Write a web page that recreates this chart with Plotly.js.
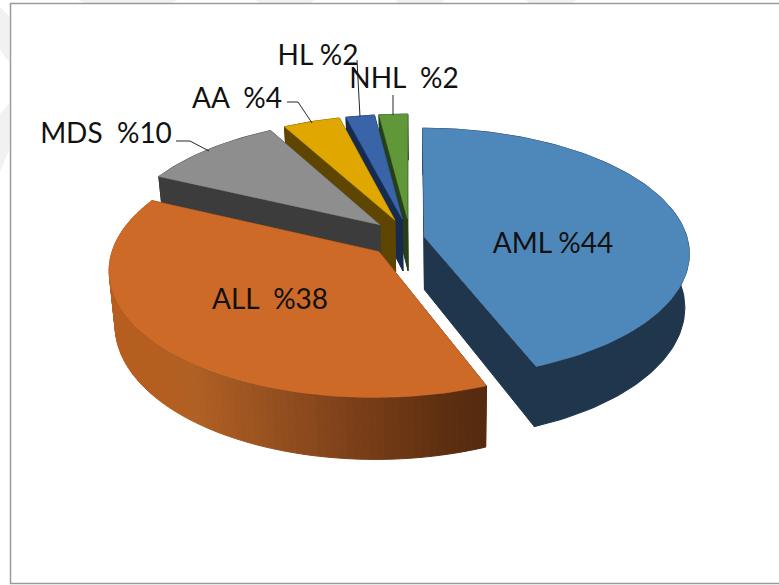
<!DOCTYPE html>
<html>
<head>
<meta charset="utf-8">
<script src="https://cdn.plot.ly/plotly-3.0.0.min.js"></script>
<style>html,body{margin:0;padding:0;background:#fff}#chart{width:779px;height:585px}</style>
</head>
<body>
<div id="chart"></div>
<script>
// Diagnosis shares, in percent
const categories = ['AML', 'ALL', 'MDS', 'AA', 'HL', 'NHL'];
const shares = [44, 38, 10, 4, 2, 2];
const labels = ['AML %44', 'ALL  %38', 'MDS  %10', 'AA  %4', 'HL %2', 'NHL  %2'];
const topColors = ['#4E87BA', '#CD6A27', '#8E8E8E', '#DFA700', '#3A64A8', '#5F9739'];
const sideColors = ['#1F364D', '#7A4016', '#3C3C3C', '#5E4500', '#172B50', '#273F18'];
const explode = [0.055, 0.16, 0.16, 0.16, 0.16, 0.16];

// Projection of the tilted pie onto the page; the lower face sits slightly further away
const view = {ox: 410, oy: 238, rx: 263, ry: 123, persp: 0.13, depth: 53, baseCx: 440, baseScale: 0.982};
function project(u, v, down) {
  const w = 1 / (1 - view.persp * v);
  const x = view.ox + view.rx * u * w;
  return [down ? view.baseCx + (x - view.baseCx) * view.baseScale : x,
    view.oy + view.ry * v * w + (down ? view.depth * w : 0)];
}
function rim(a, pull, mid, down) {
  return project(Math.sin(a) + pull * Math.sin(mid), -Math.cos(a) - pull * Math.cos(mid), down);
}
function apex(pull, mid, down) {
  return project(pull * Math.sin(mid), -pull * Math.cos(mid), down);
}
function poly(points, color, name, width) {
  return {type: 'scatter', mode: 'lines', x: points.map(p => p[0]), y: points.map(p => p[1]),
    fill: 'toself', fillcolor: color, line: {color: color, width: width || 0.5}, name: name, hoverinfo: 'skip', showlegend: false};
}

// Shading along the curved wall of the ALL slice, left to right
const wallStops = [[0, [182, 94, 32]], [0.12, [176, 96, 36]], [0.5, [134, 70, 28]], [0.85, [96, 48, 16]], [1, [84, 42, 16]]];
function wallShade(t) {
  for (let i = 1; i < wallStops.length; i++) {
    if (t <= wallStops[i][0]) {
      const a = wallStops[i - 1], b = wallStops[i], f = (t - a[0]) / (b[0] - a[0]);
      return 'rgb(' + a[1].map((c, k) => Math.round(c + (b[1][k] - c) * f)).join(',') + ')';
    }
  }
  return 'rgb(84,42,16)';
}

const total = shares.reduce((s, v) => s + v, 0);
let start = 0;
const slices = shares.map((v, i) => {
  const a0 = start / total * 2 * Math.PI;
  start += v;
  const a1 = start / total * 2 * Math.PI;
  return {i, a0, a1, mid: (a0 + a1) / 2};
});

function sliceTraces(s) {
  const out = [], pull = explode[s.i], n = Math.max(8, Math.ceil((s.a1 - s.a0) * 40));
  const angle = k => s.a0 + (s.a1 - s.a0) * k / n;
  const side = sideColors[s.i], name = categories[s.i];
  // radial walls first
  [s.a0, s.a1].forEach(a => out.push(poly([apex(pull, s.mid, false), rim(a, pull, s.mid, false), rim(a, pull, s.mid, true), apex(pull, s.mid, true), apex(pull, s.mid, false)], side, name, 1)));
  // curved wall, banded from the left end to the right end of the ALL slice
  if (s.i === 1) {
    const x0 = rim(s.a1, pull, s.mid, false)[0], x1 = rim(s.a0, pull, s.mid, false)[0];
    const xLeft = Math.min(x0, x1), xRight = Math.max(x0, x1);
    for (let k = 0; k < n; k++) {
      const a = angle(k), b = angle(k + 1);
      const mx = (rim(a, pull, s.mid, false)[0] + rim(b, pull, s.mid, false)[0]) / 2;
      out.push(poly([rim(a, pull, s.mid, false), rim(b, pull, s.mid, false), rim(b, pull, s.mid, true), rim(a, pull, s.mid, true), rim(a, pull, s.mid, false)],
        wallShade(Math.max(0, Math.min(1, (mx - xLeft) / (xRight - xLeft)))), name, 1));
    }
  } else {
    const ring = [];
    for (let k = 0; k <= n; k++) ring.push(rim(angle(k), pull, s.mid, false));
    for (let k = n; k >= 0; k--) ring.push(rim(angle(k), pull, s.mid, true));
    ring.push(ring[0]);
    out.push(poly(ring, side, name, 1));
  }
  // top face last
  const top = [apex(pull, s.mid, false)];
  for (let k = 0; k <= n; k++) top.push(rim(angle(k), pull, s.mid, false));
  top.push(top[0]);
  out.push(poly(top, topColors[s.i], name));
  return out;
}

// Paint from the far side of the pie towards the viewer
const paintOrder = [5, 4, 3, 2, 0, 1];
const traces = [];
paintOrder.forEach(i => sliceTraces(slices[i]).forEach(t => traces.push(t)));

// Leader lines from the outer labels to their slices
function leader(i, pts) {
  traces.push({type: 'scatter', mode: 'lines', x: pts.map(p => p[0]), y: pts.map(p => p[1]),
    line: {color: '#262626', width: 1}, hoverinfo: 'skip', showlegend: false, name: categories[i]});
}
leader(2, [[176, 141], [190, 141], [209, 151]]);
leader(3, [[287, 102], [298, 102], [312, 123]]);
leader(4, [[357, 60], [360, 117]]);
leader(5, [[393, 95], [393, 115]]);

// Slice labels
const labelX = [553, 270, 106, 237, 318, 404];
const labelY = [246, 302, 136, 101, 58, 81];
traces.push({type: 'scatter', mode: 'text', x: labelX, y: labelY, text: labels, textposition: 'middle center',
  textfont: {family: 'Lato, Carlito, sans-serif', size: 28, color: '#111111'}, hoverinfo: 'skip', showlegend: false});

// Pale slanted bands behind the frame, visible only in the page margin
const bandPaths = [
  'M0,7 L9,16 L9,62 L0,50 Z',
  'M0,114 L9,103 L9,150 L0,172 Z',
  'M78,0 L178,0 L172,3 L84,3 Z',
  'M255,0 L315,0 L310,3 L260,3 Z',
  'M395,0 L445,0 L441,3 L399,3 Z',
  'M525,0 L577,0 L572,3 L530,3 Z'
];
const bands = bandPaths.map(path => ({type: 'path', xref: 'x', yref: 'y', path, fillcolor: '#f1f1f1', line: {width: 0}, layer: 'below'}));

const hidden = {visible: false, fixedrange: true};
Plotly.newPlot('chart', traces, {
  width: 779, height: 585,
  margin: {l: 0, r: 0, t: 0, b: 0},
  paper_bgcolor: '#ffffff', plot_bgcolor: 'rgba(0,0,0,0)',
  xaxis: Object.assign({range: [0, 779]}, hidden),
  yaxis: Object.assign({range: [585, 0]}, hidden),
  shapes: bands.concat([{type: 'rect', xref: 'x', yref: 'y', x0: 10.5, y0: 3.5, x1: 800, y1: 583.5, line: {color: '#9a9a9a', width: 1.5}, layer: 'below'}])
}, {displayModeBar: false, staticPlot: true});
</script>
</body>
</html>
